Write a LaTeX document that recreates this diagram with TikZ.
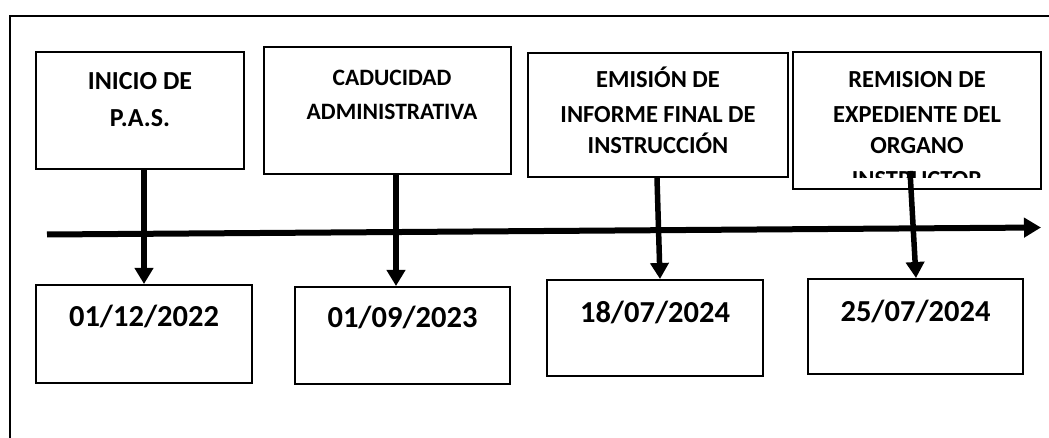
\documentclass[tikz,border=0pt]{standalone}
\usepackage{fontspec}
\setmainfont{Carlito}
\usetikzlibrary{arrows.meta,calc}
\begin{document}
\begin{tikzpicture}[x=1pt,y=-1pt,
  box/.style={draw,line width=2pt,inner sep=0pt,fill=white},
  lblA/.style={font=\bfseries\fontsize{26}{30}\selectfont,inner sep=0pt,anchor=base},
  lblB/.style={font=\bfseries\fontsize{23.5}{28}\selectfont,inner sep=0pt,anchor=base},
  lblC/.style={font=\bfseries\fontsize{24.5}{29}\selectfont,inner sep=0pt,anchor=base},
  datetxt/.style={font=\bfseries\fontsize{30.5}{36}\selectfont,inner sep=0pt,anchor=base},
  arr/.style={line width=5.5pt,-{Triangle[length=16pt,width=18pt]}},
  tline/.style={line width=6pt,-{Triangle[length=17pt,width=19pt]}}]
\useasboundingbox (0,0) rectangle (1049,438);
\clip (0,0) rectangle (1049,438);
\fill[white] (0,0) rectangle (1049,438);
% outer frame
\draw[line width=2pt] (1070,16) -- (10,16) -- (10,460);
% top boxes
\node[box,minimum width=208pt,minimum height=117pt] (b1) at (140,110.5) {};
\node[box,minimum width=247pt,minimum height=127pt] (b2) at (387.5,110.5) {};
\node[box,minimum width=260pt,minimum height=124pt] (b3) at (658,115) {};
\node[box,minimum width=248pt,minimum height=137pt] (b4) at (917,120.5) {};
% labels
\node[lblA] (t11) at (140,89.3) {INICIO DE};
\node[lblA] (t12) at (140,126.7) {P.A.S.};
\node[lblB] (t21) at (392,86) {CADUCIDAD};
\node[lblB] (t22) at (392,120) {ADMINISTRATIVA};
\node[lblC] (t31) at (658,87.3) {EMISIÓN DE};
\node[lblC] (t32) at (658,122.7) {INFORME FINAL DE};
\node[lblC] (t33) at (658,154) {INSTRUCCIÓN};
\begin{scope}
\clip (b4.north west) rectangle ($(b4.south east)+(0,-12)$);
\node[lblC] (t41) at (917,87.3) {REMISION DE};
\node[lblC] (t42) at (917,122.7) {EXPEDIENTE DEL};
\node[lblC] (t43) at (917,154) {ORGANO};
\node[lblC] (t44) at (917,188) {INSTRUCTOR};
\end{scope}
% date boxes
\node[box,minimum width=216pt,minimum height=98pt] (d1) at (144,334) {};
\node[box,minimum width=215pt,minimum height=97pt] (d2) at (402.5,335.5) {};
\node[box,minimum width=216pt,minimum height=96pt] (d3) at (655,328) {};
\node[box,minimum width=215pt,minimum height=95pt] (d4) at (915.5,326.5) {};
\node[datetxt] (dt1) at (144,326) {01/12/2022};
\node[datetxt] (dt2) at (402.5,327.6) {01/09/2023};
\node[datetxt] (dt3) at (655,322.7) {18/07/2024};
\node[datetxt] (dt4) at (915.5,321.7) {25/07/2024};
% timeline
\coordinate (tl0) at (47,234.5);
\coordinate (tl1) at (1041,227.5);
\draw[tline] (tl0) -- (tl1);
% connectors
\draw[arr] ($(b1.south)+(4,0)$) -- (d1.north);
\draw[arr] ($(b2.south)+(8.5,0)$) -- ($(d2.north)+(-6.5,0)$);
\draw[arr] ($(b3.south)+(-1,0)$) -- ($(d3.north)+(5,0)$);
\draw[arr] ($(b4.south)+(-7,-19)$) -- ($(d4.north)+(0.5,0)$);
\end{tikzpicture}
\end{document}
